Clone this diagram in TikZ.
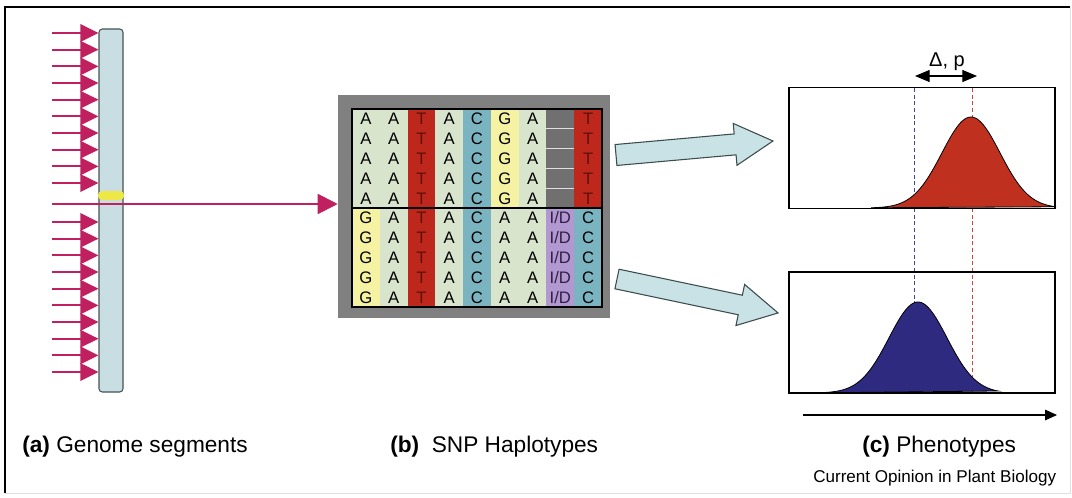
\documentclass[tikz,border=0pt]{standalone}
\usepackage{fontspec}
\setmainfont{Liberation Sans}
\usetikzlibrary{shapes,arrows.meta}

\definecolor{chromFill}{RGB}{200,222,226}
\definecolor{chromEdge}{RGB}{70,82,84}
\definecolor{snpMagenta}{RGB}{192,32,96}
\definecolor{markYellow}{RGB}{238,232,70}
\definecolor{frameGray}{RGB}{128,128,128}
\definecolor{cellGreen}{RGB}{216,228,204}
\definecolor{cellYellow}{RGB}{246,242,164}
\definecolor{cellRed}{RGB}{190,40,28}
\definecolor{cellTeal}{RGB}{122,180,192}
\definecolor{cellPurple}{RGB}{178,152,208}
\definecolor{cellGray}{RGB}{112,112,112}
\definecolor{darkT}{RGB}{95,15,10}
\definecolor{darkID}{RGB}{50,30,70}
\definecolor{curveRed}{RGB}{192,48,30}
\definecolor{curveBlue}{RGB}{46,42,128}
\definecolor{meanBlue}{RGB}{70,70,150}
\definecolor{meanRed}{RGB}{205,70,70}
\definecolor{blockFill}{RGB}{200,226,230}
\definecolor{blockEdge}{RGB}{60,75,75}

\begin{document}
\begin{tikzpicture}[x=0.75pt, y=-0.75pt, font=\fontsize{12.5}{14}\selectfont]

\tikzstyle{chrom} = [rectangle, draw=chromEdge, fill=chromFill, rounded corners=2.5pt,
line width=0.8pt, minimum width=18pt, minimum height=272.25pt, inner sep=0pt]
\tikzstyle{hitarrow} = [draw=snpMagenta, line width=1.4pt, -{Triangle[length=13.5pt, width=13pt]}]
\tikzstyle{mainarrow} = [draw=snpMagenta, line width=1.4pt, -{Triangle[length=15pt, width=15pt]}]
\tikzstyle{hapframe} = [rectangle, fill=frameGray, minimum width=204pt, minimum height=167.25pt, inner sep=0pt]
\tikzstyle{plotbox} = [rectangle, draw, line width=1.2pt, minimum width=199.5pt, minimum height=90.5pt, inner sep=0pt]
\tikzstyle{blockarrow} = [draw=blockEdge, fill=blockFill, line width=0.8pt, line join=miter]
\tikzstyle{meanline} = [dash pattern=on 3pt off 2pt, line width=0.6pt]
\tikzstyle{caption} = [anchor=base west, inner sep=0pt, font=\fontsize{17}{20}\selectfont]

\useasboundingbox (0,0) rectangle (1072,497);
\draw[line width=1.2pt] (5,493) -- (5,7) -- (1070,7);
\draw[black!12] (5,493) -- (1070,493) -- (1070,7);

% genome segments
\node[chrom] (chrom) at (111,210.5) {};
\node[hapframe] (hapframe) at (474,206.5) {};
\foreach \i in {0,...,9} {
  \coordinate (up\i) at (52,{33+\i*16.67});
  \coordinate (dn\i) at (52,{222+\i*16.67});
  \draw[hitarrow] (up\i) -- (up\i -| chrom.west);
  \draw[hitarrow] (dn\i) -- (dn\i -| chrom.west);
}
\coordinate (probe) at (52,204);
\draw[mainarrow] (probe) -- (probe -| hapframe.west);
\fill[markYellow, rounded corners=3pt] (98,191) rectangle (124,200);

% haplotype table
\foreach \c/\l/\t [count=\i from 0] in {cellGreen/A/black, cellGreen/A/black, cellRed/T/darkT,
  cellGreen/A/black, cellTeal/C/black, cellYellow/G/black, cellGreen/A/black,
  cellGray/{}/black, cellRed/T/darkT} {
  \fill[\c] ({352+\i*27.78},109) rectangle ({352+(\i+1)*27.78},208);
  \foreach \r in {0,...,4}
    \node[anchor=base, text=\t, inner sep=0pt] at ({352+(\i+0.5)*27.78},{124.8+\r*19.8}) {\l};
}
\foreach \c/\l/\t [count=\i from 0] in {cellYellow/G/black, cellGreen/A/black, cellRed/T/darkT,
  cellGreen/A/black, cellTeal/C/black, cellGreen/A/black, cellGreen/A/black,
  cellPurple/{I/D}/darkID, cellTeal/C/black} {
  \fill[\c] ({352+\i*27.78},208) rectangle ({352+(\i+1)*27.78},307);
  \foreach \r in {0,...,4}
    \node[anchor=base, text=\t, inner sep=0pt] at ({352+(\i+0.5)*27.78},{223.8+\r*19.8}) {\l};
}
\foreach \r in {1,...,4}
  \draw[white!75!gray, line width=0.8pt] (546.4,{109+\r*19.8}) -- (574.2,{109+\r*19.8});
\draw[line width=1.5pt] (352,109) rectangle (602,307);
\draw[line width=1.2pt] (352,208) -- (602,208);

% phenotype plots
\draw[meanline, draw=meanBlue] (914,88) -- (914,393);
\draw[meanline, draw=meanRed] (972,88) -- (972,393);
\filldraw[fill=curveRed, draw=black, line width=0.6pt]
  plot[domain=-100:85, samples=90, smooth] ({971+\x},{208-91*exp(-(\x*\x)/1682)}) -- cycle;
\filldraw[fill=curveBlue, draw=black, line width=0.6pt]
  plot[domain=-105:80, samples=90, smooth] ({918+\x},{393-91*exp(-(\x*\x)/1682)}) -- cycle;
\node[plotbox] (plotHi) at (922,148) {};
\node[plotbox, below of=plotHi, node distance=138.4pt] (plotLo) {};

\coordinate (shiftL) at (915,76);
\coordinate (shiftR) at (977,76);
\draw[line width=0.8pt, {Triangle[length=11pt, width=9pt]}-{Triangle[length=11pt, width=9pt]}] (shiftL) -- (shiftR);
\node[anchor=base, inner sep=0pt, font=\fontsize{15}{17}\selectfont] (delta) at (947,66) {Δ, p};

\coordinate (axL) at (803,415);
\coordinate (axR) at (1057,415);
\draw[line width=0.8pt, -{Triangle[length=9pt, width=8pt]}] (axL) -- (axR);

% block arrows
\begin{scope}[shift={(616,155)}, rotate=5.1]
\draw[blockarrow] (0,-10.5) -- (119.6,-10.5) -- (119.6,-21) -- (157.6,0) -- (119.6,21)
  -- (119.6,10.5) -- (0,10.5) -- cycle;
\end{scope}
\begin{scope}[shift={(617,279)}, rotate=-11.9]
\draw[blockarrow] (0,-10) -- (126,-10) -- (126,-21) -- (164.6,0) -- (126,21)
  -- (126,10) -- (0,10) -- cycle;
\end{scope}

\node[caption] (capA) at (22,452) {\textbf{(a)} Genome segments};
\node[caption] (capB) at (390,452) {\textbf{(b)}\ \ SNP Haplotypes};
\node[caption] (capC) at (862,452) {\textbf{(c)} Phenotypes};
\node[anchor=base west, inner sep=0pt, font=\fontsize{12.8}{15}\selectfont] (credit) at (813,482)
  {Current Opinion in Plant Biology};
\end{tikzpicture}
\end{document}
